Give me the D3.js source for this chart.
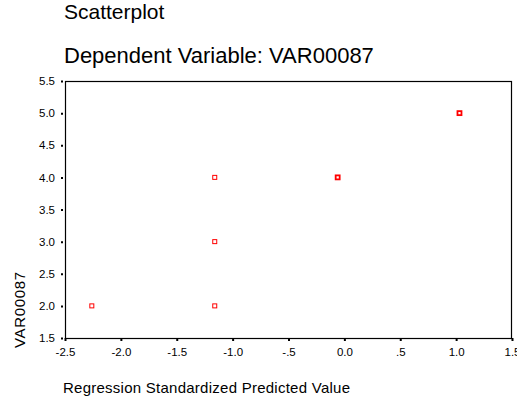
<!DOCTYPE html>
<html>
<head>
<meta charset="utf-8">
<script src="https://cdn.jsdelivr.net/npm/d3@7"></script>
<style>
  html, body { margin: 0; padding: 0; background: #fff; }
  text { font-family: "Liberation Sans", Arial, sans-serif; fill: #000; }
</style>
</head>
<body>
<div id="chart"></div>
<script>
'use strict';

// cases (count > 1 where markers overlap)
const predicted = [-2.26, -1.16, -1.16, -1.16, -0.06, 1.03];
const observed = [2, 2, 3, 4, 4, 5];
const counts = [1, 1, 1, 1, 2, 2];

const xTicks = [-2.5, -2.0, -1.5, -1.0, -0.5, 0.0, 0.5, 1.0, 1.5];
const xTickLabels = ['-2.5', '-2.0', '-1.5', '-1.0', '-.5', '0.0', '.5', '1.0', '1.5'];
const yTicks = [1.5, 2.0, 2.5, 3.0, 3.5, 4.0, 4.5, 5.0, 5.5];
const yTickLabels = ['1.5', '2.0', '2.5', '3.0', '3.5', '4.0', '4.5', '5.0', '5.5'];

const title = 'Scatterplot';
const subtitle = 'Dependent Variable: VAR00087';
const xTitle = 'Regression Standardized Predicted Value';
const yTitle = 'VAR00087';

const width = 517;
const height = 403;
const margin = { top: 81, right: 5, bottom: 65, left: 65 };

const data = predicted.map((x, i) => ({ x, y: observed[i], n: counts[i] }));

const svg = d3.select('#chart').append('svg')
  .attr('width', width)
  .attr('height', height);

const xScale = d3.scaleLinear()
  .domain([xTicks[0], xTicks[xTicks.length - 1]])
  .range([margin.left, width - margin.right]);
const yScale = d3.scaleLinear()
  .domain([yTicks[0], yTicks[yTicks.length - 1]])
  .range([height - margin.bottom, margin.top]);

// titles
svg.append('text')
  .attr('x', 64)
  .attr('y', 19)
  .attr('font-size', 21)
  .text(title);

svg.append('text')
  .attr('x', 64)
  .attr('y', 63)
  .attr('font-size', 22)
  .text(subtitle);

// axes (ticks only, frame drawn separately)
const xAxis = d3.axisBottom(xScale)
  .tickValues(xTicks)
  .tickFormat((d, i) => xTickLabels[i])
  .tickSize(3)
  .tickPadding(7);
const yAxis = d3.axisLeft(yScale)
  .tickValues(yTicks)
  .tickFormat((d, i) => yTickLabels[i])
  .tickSize(2)
  .tickPadding(6);

const gx = svg.append('g')
  .attr('transform', `translate(0, ${height - margin.bottom})`)
  .call(xAxis);
const gy = svg.append('g')
  .attr('transform', `translate(${margin.left - 2}, 0)`)
  .call(yAxis);

[gx, gy].forEach(g => {
  g.select('.domain').remove();
  g.selectAll('.tick line').attr('stroke', '#000').attr('stroke-width', 2);
  g.selectAll('.tick text')
    .attr('font-family', '"Liberation Sans", Arial, sans-serif')
    .attr('font-size', 11.5)
    .attr('fill', '#000');
});

// plot frame
svg.append('rect')
  .attr('x', xScale.range()[0] + 0.5)
  .attr('y', yScale.range()[1] + 0.5)
  .attr('width', xScale.range()[1] - xScale.range()[0] - 1)
  .attr('height', yScale.range()[0] - yScale.range()[1])
  .attr('fill', 'none')
  .attr('stroke', '#000')
  .attr('stroke-width', 1.2);

// axis titles
svg.append('text')
  .attr('x', 63)
  .attr('y', 393)
  .attr('font-size', 15)
  .attr('textLength', 287)
  .text(xTitle);

svg.append('text')
  .attr('transform', 'translate(25, 348) rotate(-90)')
  .attr('font-size', 15)
  .attr('textLength', 76)
  .text(yTitle);

// markers
const side = 4;
svg.append('g').selectAll('rect')
  .data(data)
  .join('rect')
  .attr('x', d => xScale(d.x) - side / 2)
  .attr('y', d => yScale(d.y) - side / 2)
  .attr('width', side)
  .attr('height', side)
  .attr('fill', '#fff')
  .attr('stroke', '#ff0000')
  .attr('stroke-width', d => (d.n > 1 ? 1.8 : 1));
</script>
</body>
</html>
